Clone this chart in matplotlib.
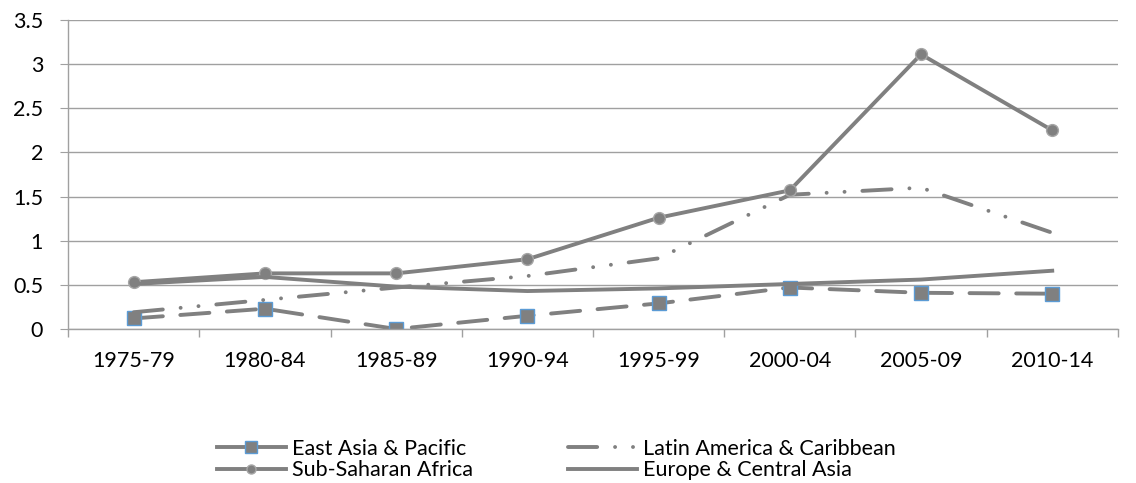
import matplotlib.pyplot as plt
from matplotlib.lines import Line2D

plt.rcParams['font.family'] = ['Lato', 'DejaVu Sans']

periods = ['1975-79', '1980-84', '1985-89', '1990-94', '1995-99', '2000-04', '2005-09', '2010-14']
east_asia = [0.12, 0.23, 0.0, 0.15, 0.29, 0.47, 0.41, 0.40]
latin_am = [0.19, 0.33, 0.47, 0.60, 0.80, 1.52, 1.60, 1.09]
ssa = [0.53, 0.63, 0.63, 0.79, 1.26, 1.57, 3.11, 2.25]
europe = [0.51, 0.59, 0.48, 0.43, 0.46, 0.51, 0.56, 0.66]

grey = '#808080'
blue_edge = '#5B9BD5'
lw = 2.8
ea_dash = (7.5, 4.5)
la_dash = (7.5, 4.6, 0.01, 4.6, 0.01, 4.6)
x = list(range(len(periods)))

fig = plt.figure(figsize=(11.36, 4.83), dpi=100)
ax = fig.add_axes([0.06, 0.3188, 0.924, 0.64])

ax.plot(x, east_asia, color=grey, lw=lw, dashes=ea_dash, dash_capstyle='round',
        marker='s', ms=9.5, mfc=grey, mec=blue_edge, mew=1.0)
ax.plot(x, latin_am, color=grey, lw=lw, dashes=la_dash, dash_capstyle='round')
ax.plot(x, ssa, color=grey, lw=lw, marker='o', ms=8.5, mfc=grey,
        mec='#a6a6a6', mew=1.0)
ax.plot(x, europe, color=grey, lw=lw)

ax.set_xlim(-0.5, 7.5)
ax.set_ylim(0, 3.5)
ax.set_yticks([0, 0.5, 1, 1.5, 2, 2.5, 3, 3.5])
ax.set_yticklabels(['0', '0.5', '1', '1.5', '2', '2.5', '3', '3.5'])
ax.set_xticks(x)
ax.set_xticklabels(periods)
ax.set_xticks([i - 0.5 for i in range(len(periods) + 1)], minor=True)
ax.tick_params(axis='x', which='major', length=0, pad=16, labelsize=15.5)
ax.tick_params(axis='x', which='minor', length=6, color='#a0a0a0', width=1)
ax.tick_params(axis='y', length=6, color='#a0a0a0', labelsize=15.5, pad=12)

ax.grid(axis='y', color='#a0a0a0', lw=1)
ax.set_axisbelow(True)
for s in ['top', 'right']:
    ax.spines[s].set_visible(False)
for s in ['left', 'bottom']:
    ax.spines[s].set_color('#a0a0a0')
    ax.spines[s].set_linewidth(1)

# legend samples look like Excel's: solid lines with a small marker
h_ea = Line2D([], [], color=grey, lw=lw, marker='s', ms=8, mfc=grey, mec=blue_edge, mew=1.0)
h_la = Line2D([], [], color=grey, lw=lw, dashes=la_dash, dash_capstyle='round')
h_ssa = Line2D([], [], color=grey, lw=lw, marker='o', ms=6.5, mfc=grey, mec='#a6a6a6', mew=1.0)
h_eu = Line2D([], [], color=grey, lw=lw)
handles = [h_ea, h_ssa, h_la, h_eu]
labels = ['East Asia & Pacific', 'Sub-Saharan Africa',
          'Latin America & Caribbean', 'Europe & Central Asia']
fig.legend(handles, labels, loc='upper left', bbox_to_anchor=(217 / 1136, 1 - 439 / 483),
           ncol=2, frameon=False, fontsize=15.5, handlelength=3.2, columnspacing=4.4,
           labelspacing=0.05, handletextpad=0.3, borderpad=0, borderaxespad=0)

fig.savefig('out.png', dpi=100)
